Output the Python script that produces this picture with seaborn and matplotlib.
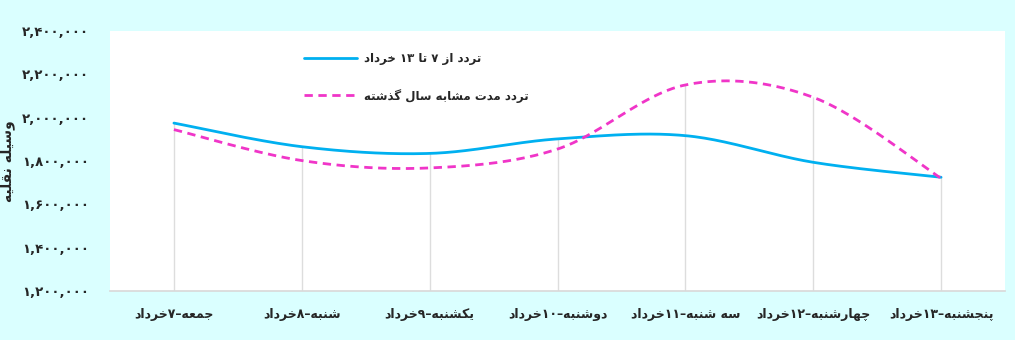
import re
import numpy as np
import pandas as pd
import matplotlib
matplotlib.use("Agg")
import matplotlib.pyplot as plt
import seaborn as sns

# ---------------- data ----------------
categories = ["جمعه–۷خرداد", "شنبه–۸خرداد", "یکشنبه–۹خرداد", "دوشنبه–۱۰خرداد",
              "سه شنبه–۱۱خرداد", "چهارشنبه–۱۲خرداد", "پنجشنبه–۱۳خرداد"]
series_current = [1975000, 1866000, 1835000, 1902000, 1917000, 1794000, 1725000]
series_last_year = [1945000, 1802000, 1768000, 1855000, 2151000, 2094000, 1720000]
label_current = "تردد از ۷ تا ۱۳ خرداد"
label_last_year = "تردد مدت مشابه سال گذشته"
y_label = "وسیله نقلیه"
y_ticks = [1200000, 1400000, 1600000, 1800000, 2000000, 2200000, 2400000]

# ---------------- minimal Persian shaping ----------------
FORMS = {
    'ا': ('\uFE8D', '\uFE8E', None, None),
    'ب': ('\uFE8F', '\uFE90', '\uFE91', '\uFE92'),
    'ت': ('\uFE95', '\uFE96', '\uFE97', '\uFE98'),
    'ج': ('\uFE9D', '\uFE9E', '\uFE9F', '\uFEA0'),
    'خ': ('\uFEA5', '\uFEA6', '\uFEA7', '\uFEA8'),
    'د': ('\uFEA9', '\uFEAA', None, None),
    'ذ': ('\uFEAB', '\uFEAC', None, None),
    'ر': ('\uFEAD', '\uFEAE', None, None),
    'ز': ('\uFEAF', '\uFEB0', None, None),
    'س': ('\uFEB1', '\uFEB2', '\uFEB3', '\uFEB4'),
    'ش': ('\uFEB5', '\uFEB6', '\uFEB7', '\uFEB8'),
    'ع': ('\uFEC9', '\uFECA', '\uFECB', '\uFECC'),
    'ق': ('\uFED5', '\uFED6', '\uFED7', '\uFED8'),
    'ل': ('\uFEDD', '\uFEDE', '\uFEDF', '\uFEE0'),
    'م': ('\uFEE1', '\uFEE2', '\uFEE3', '\uFEE4'),
    'ن': ('\uFEE5', '\uFEE6', '\uFEE7', '\uFEE8'),
    'ه': ('\uFEE9', '\uFEEA', '\uFEEB', '\uFEEC'),
    'و': ('\uFEED', '\uFEEE', None, None),
    'ی': ('\uFBFC', '\uFBFD', '\uFBFE', '\uFBFF'),
    'ک': ('\uFB8E', '\uFB8F', '\uFB90', '\uFB91'),
    'گ': ('\uFB92', '\uFB93', '\uFB94', '\uFB95'),
    'پ': ('\uFB56', '\uFB57', '\uFB58', '\uFB59'),
    'چ': ('\uFB7A', '\uFB7B', '\uFB7C', '\uFB7D'),
}
RIGHT_ONLY = set('اذدرزو')


def shape(text):
    out = []
    for i, c in enumerate(text):
        if c not in FORMS:
            out.append(c)
            continue
        prev = text[i - 1] if i > 0 else None
        nxt = text[i + 1] if i + 1 < len(text) else None
        jp = prev in FORMS and prev not in RIGHT_ONLY
        jn = nxt in FORMS and c not in RIGHT_ONLY
        iso, fin, ini, med = FORMS[c]
        if jp and jn:
            out.append(med)
        elif jp:
            out.append(fin)
        elif jn:
            out.append(ini)
        else:
            out.append(iso)
    return ''.join(out)


def rtl(text):
    s = shape(text)[::-1]
    return re.sub(r'[۰-۹]+', lambda m: m.group(0)[::-1], s)


def fa_digits(s):
    return s.translate(str.maketrans('0123456789', '۰۱۲۳۴۵۶۷۸۹'))


# ---------------- smoothing (Excel-like Bezier) ----------------
def smooth(xs, ys, n=40):
    xs = np.asarray(xs, float)
    ys = np.asarray(ys, float)
    px, py = [], []
    m = len(xs)
    for i in range(m - 1):
        i0, i3 = max(i - 1, 0), min(i + 2, m - 1)
        p0 = np.array([xs[i], ys[i]])
        p3 = np.array([xs[i + 1], ys[i + 1]])
        c1 = p0 + (np.array([xs[i + 1], ys[i + 1]]) - np.array([xs[i0], ys[i0]])) / 6
        c2 = p3 - (np.array([xs[i3], ys[i3]]) - np.array([xs[i], ys[i]])) / 6
        t = np.linspace(0, 1, n, endpoint=(i == m - 2))[:, None]
        pts = (1 - t) ** 3 * p0 + 3 * (1 - t) ** 2 * t * c1 + 3 * (1 - t) * t ** 2 * c2 + t ** 3 * p3
        px.extend(pts[:, 0])
        py.extend(pts[:, 1])
    return np.array(px), np.array(py)


# ---------------- plot ----------------
sns.set_theme(style="white")
plt.rcParams['font.family'] = ['DejaVu Sans']
plt.rcParams['font.weight'] = 'bold'

bg = '#DAFFFF'
fig = plt.figure(figsize=(10.15, 3.4), dpi=100, facecolor=bg)
ax = fig.add_axes([110 / 1015, 1 - 291 / 340, 895 / 1015, 260 / 340])
ax.set_facecolor('white')

x_idx = np.arange(len(categories))
frames = []
for name, vals in [(label_current, series_current), (label_last_year, series_last_year)]:
    sx, sy = smooth(x_idx, vals)
    frames.append(pd.DataFrame({'x': sx, 'y': sy, 'series': rtl(name)}))
df = pd.concat(frames, ignore_index=True)

# drop lines
tops = np.maximum(series_current, series_last_year)
ax.vlines(x_idx, y_ticks[0], tops, color='#DDDDDD', lw=1.0, zorder=1)

palette = {rtl(label_current): '#00B0F0', rtl(label_last_year): '#F035C8'}
sns.lineplot(data=df, x='x', y='y', hue='series', style='series', palette=palette,
             dashes={rtl(label_current): '', rtl(label_last_year): (3, 2)},
             sort=False, estimator=None, lw=2.0, ax=ax, zorder=3)

ax.set_xlim(-0.5, len(categories) - 0.5)
ax.set_ylim(y_ticks[0], y_ticks[-1])
ax.set_xticks(x_idx)
ax.set_xticklabels([rtl(c) for c in categories], fontsize=9, fontweight='bold')
ax.set_yticks(y_ticks)
ax.set_yticklabels([fa_digits(f"{v:,}") for v in y_ticks], fontsize=9.5, fontweight='bold')
ax.tick_params(axis='x', length=0, pad=12)
ax.tick_params(axis='y', length=0, pad=15)
ax.set_xlabel('')
ax.set_ylabel(rtl(y_label), fontsize=10, fontweight='bold')
ax.yaxis.set_label_coords((15 - 110) / 895, 0.5)
for side in ['top', 'right', 'left']:
    ax.spines[side].set_visible(False)
ax.spines['bottom'].set_color('#D9D9D9')
ax.grid(False)

leg = ax.legend(loc='upper left', bbox_to_anchor=(0.205, 0.96), frameon=False,
                fontsize=8.5, handlelength=4.5, labelspacing=2.0, handletextpad=0.6)
for t in leg.get_texts():
    t.set_fontweight('bold')

fig.savefig('out.png', dpi=100, facecolor=bg)
